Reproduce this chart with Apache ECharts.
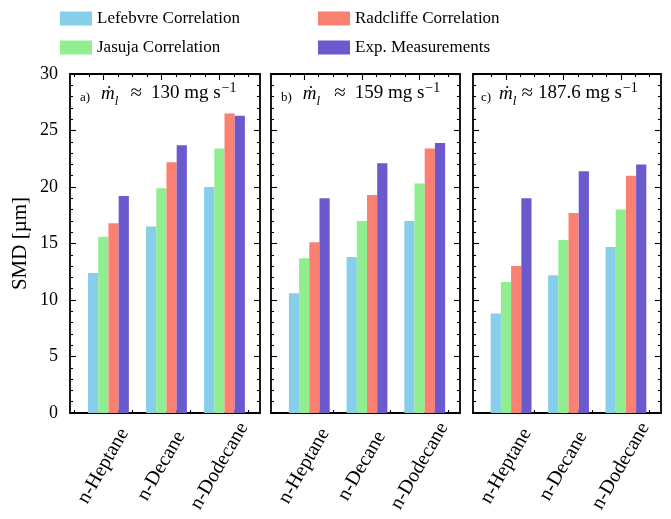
<!DOCTYPE html>
<html><head><meta charset="utf-8">
<script src="https://cdn.jsdelivr.net/npm/echarts@6/dist/echarts.min.js"></script>
<style>html,body{margin:0;padding:0;background:#fff}#c{width:671px;height:519px}</style>
</head><body><div id="c"></div>
<script>
// ---- data ----
const categories = ['n-Heptane', 'n-Decane', 'n-Dodecane'];
const seriesNames = ['Lefebvre Correlation', 'Jasuja Correlation', 'Radcliffe Correlation', 'Exp. Measurements'];
const panelLabels = ['a)', 'b)', 'c)'];
const panelFlow = ['130', '159', '187.6'];
const yMin = 0, yMax = 30, yStep = 5;
// panel a (≈130 mg/s)
const lefebvreA  = [12.4, 16.5, 20.0];
const jasujaA    = [15.6, 19.9, 23.4];
const radcliffeA = [16.8, 22.2, 26.5];
const expA       = [19.2, 23.7, 26.3];
// panel b (≈159 mg/s)
const lefebvreB  = [10.6, 13.8, 17.0];
const jasujaB    = [13.7, 17.0, 20.3];
const radcliffeB = [15.1, 19.3, 23.4];
const expB       = [19.0, 22.1, 23.9];
// panel c (≈187.6 mg/s)
const lefebvreC  = [8.8, 12.2, 14.7];
const jasujaC    = [11.6, 15.3, 18.0];
const radcliffeC = [13.0, 17.7, 21.0];
const expC       = [19.0, 21.4, 22.0];

const panels = [
  [lefebvreA, jasujaA, radcliffeA, expA],
  [lefebvreB, jasujaB, radcliffeB, expB],
  [lefebvreC, jasujaC, radcliffeC, expC]
];
const colors = ['#87CEEB', '#90EE90', '#FA8072', '#6A5ACD'];

// ---- layout / style ----
const FONT = 'Liberation Serif';
const CLEAR = 'rgba(0,0,0,0)';
const gridBoxes = [{left: 70, width: 190}, {left: 271, width: 189}, {left: 473, width: 188}];
const GTOP = 74, GH = 339;
const XMIN = -0.575, XMAX = 2.7;
const majorX = categories.map((_, i) => i);
const minorX = [];
for (let k = -2; k <= 10; k++) { if (k % 4 !== 0) minorX.push(k * 0.25); }

const frameLine = () => ({show: true, onZero: false, lineStyle: {color: '#000', width: 1.8}});
const ghostLine = () => ({show: true, onZero: false, lineStyle: {color: CLEAR, width: 1}});
const tickStyle = () => ({color: '#000', width: 1.1});

const grid = gridBoxes.map(g => ({left: g.left, width: g.width, top: GTOP, height: GH, show: false}));
const xAxis = [], yAxis = [], series = [];
const NX = 6, NY = 4;

panels.forEach((panel, i) => {
  const W = gridBoxes[i].width;
  const xBase = () => ({type: 'value', gridIndex: i, min: XMIN, max: XMAX, splitLine: {show: false}});
  // 0: bottom frame + category labels
  xAxis.push(Object.assign(xBase(), {position: 'bottom', axisLine: frameLine(),
    axisTick: {show: false},
    axisLabel: {show: true, customValues: majorX, formatter: v => categories[Math.round(v)],
      rotate: 60, align: 'center', verticalAlign: 'middle', margin: 53,
      fontFamily: FONT, fontSize: 20, color: '#000'}}));
  // 1: top frame
  xAxis.push(Object.assign(xBase(), {position: 'top', axisLine: frameLine(),
    axisTick: {show: false}, axisLabel: {show: false}}));
  // 2,3: ticks on bottom border pointing into the plot (top-side axis moved down)
  // 4,5: ticks on top border pointing into the plot (bottom-side axis moved up)
  [['top', majorX, 6], ['top', minorX, 3], ['bottom', majorX, 6], ['bottom', minorX, 3]].forEach(([pos, vals, len]) => {
    xAxis.push(Object.assign(xBase(), {position: pos, offset: -GH, axisLine: ghostLine(),
      axisTick: {show: true, length: len, customValues: vals, lineStyle: tickStyle()},
      axisLabel: {show: true, customValues: vals, color: CLEAR, fontSize: 8}}));
  });

  const yBase = () => ({type: 'value', gridIndex: i, min: yMin, max: yMax, interval: yStep,
    splitLine: {show: false}, minorSplitLine: {show: false}});
  // 0: left frame + labels
  yAxis.push(Object.assign(yBase(), {position: 'left', axisLine: frameLine(), axisTick: {show: false},
    axisLabel: {show: i === 0, fontFamily: FONT, fontSize: 18, color: '#000', margin: 12},
    name: i === 0 ? 'SMD [µm]' : '', nameLocation: 'middle', nameGap: 39,
    nameTextStyle: {fontFamily: FONT, fontSize: 21, color: '#000'}}));
  // 1: right frame
  yAxis.push(Object.assign(yBase(), {position: 'right', axisLine: frameLine(),
    axisTick: {show: false}, axisLabel: {show: false}}));
  // 2: ticks on the left border pointing right; 3: ticks on the right border pointing left
  ['right', 'left'].forEach(pos => {
    yAxis.push(Object.assign(yBase(), {position: pos, offset: -W, axisLine: ghostLine(),
      axisTick: {show: true, length: 6, lineStyle: tickStyle()},
      minorTick: {show: true, splitNumber: 5, length: 3, lineStyle: tickStyle()},
      axisLabel: {show: true, color: CLEAR, fontSize: 8}}));
  });

  // invisible leading slot so each group centres on its 2nd bar, as in the source
  series.push({type: 'bar', name: '__slot' + i, xAxisIndex: NX * i, yAxisIndex: NY * i,
    data: [], barWidth: 10.2, barGap: '0%', silent: true});
  panel.forEach((vals, j) => {
    series.push({type: 'bar', name: seriesNames[j], xAxisIndex: NX * i, yAxisIndex: NY * i,
      barWidth: 10.2, barGap: '0%', itemStyle: {color: colors[j]},
      data: vals.map((v, k) => [k, v])});
  });
  // hidden copies of the panel's data bound to the tick-only axes, so those axes are not blank
  [[2, 2], [3, 3], [4, 2], [5, 3]].forEach(([xi, yi]) => {
    series.push({type: 'scatter', name: '__ticks' + i + '_' + xi, xAxisIndex: NX * i + xi, yAxisIndex: NY * i + yi,
      symbolSize: 0, itemStyle: {opacity: 0}, silent: true,
      data: panel[0].map((v, k) => [k, v])});
  });
});

// panel annotations: a) ṁ_l ≈ … mg s^-1
const titleLefts = [80, 281, 481];
const titleGaps = [[11, 12, 9], [11, 14, 9], [8, 5, 5]];
const title = panelLabels.map((lab, i) => {
  const g = titleGaps[i];
  const base = {fontFamily: FONT, color: '#000', fontWeight: 'normal', verticalAlign: 'bottom'};
  const rich = {
    a: Object.assign({}, base, {fontSize: 13, padding: [0, g[0], 5, 0]}),
    m: Object.assign({}, base, {fontSize: 19, fontStyle: 'italic', padding: [0, 0, 6, 0]}),
    s: Object.assign({}, base, {fontSize: 13, fontStyle: 'italic', padding: [0, g[1], 1, 0]}),
    e: Object.assign({}, base, {fontSize: 21, padding: [0, g[2], 5, 0]}),
    t: Object.assign({}, base, {fontSize: 19, padding: [0, 0, 6, 0]}),
    p: Object.assign({}, base, {fontSize: 14, padding: [0, 0, 14, 1]})
  };
  return {left: titleLefts[i], top: 81, padding: 0,
    text: '{a|' + lab + '}{m|ṁ}{s|l}{e|≈}{t|' + panelFlow[i] + ' mg s}{p|−1}',
    textStyle: {fontWeight: 'normal', rich: rich}};
});

const legendCommon = {orient: 'vertical', top: 10, padding: 0, itemWidth: 32, itemHeight: 14, itemGap: 12,
  icon: 'rect', textStyle: {fontFamily: FONT, fontSize: 17, color: '#000', lineHeight: 17},
  selectedMode: false};
const legend = [
  Object.assign({}, legendCommon, {left: 60, data: [seriesNames[0], seriesNames[1]]}),
  Object.assign({}, legendCommon, {left: 318, data: [seriesNames[2], seriesNames[3]]})
];

const chart = echarts.init(document.getElementById('c'), null, {renderer: 'canvas'});
chart.setOption({
  animation: false, color: colors, textStyle: {fontFamily: FONT},
  title, legend, grid, xAxis, yAxis, series
});
</script></body></html>
